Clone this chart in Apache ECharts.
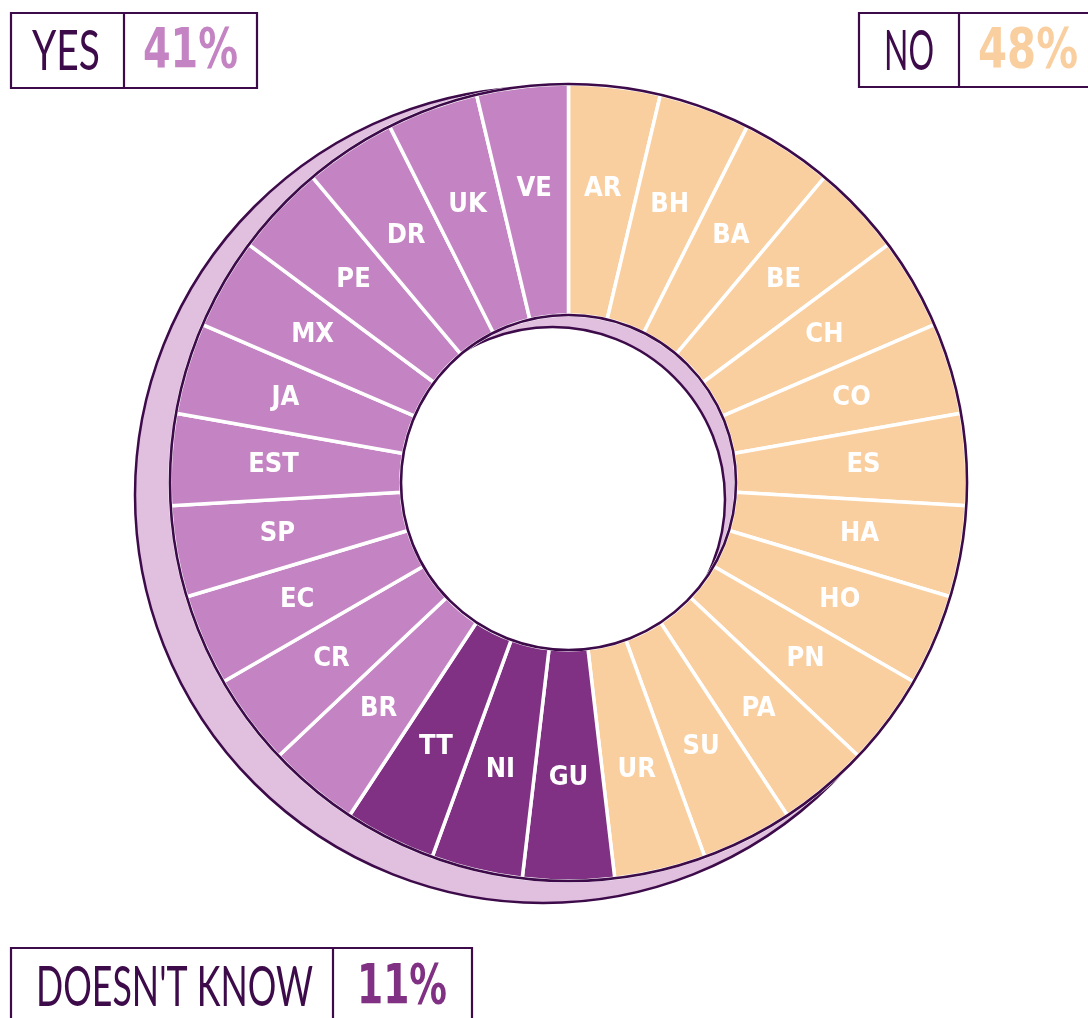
<!DOCTYPE html>
<html>
<head>
<meta charset="utf-8">
<script src="https://cdn.jsdelivr.net/npm/echarts@6/dist/echarts.min.js"></script>
<style>
html,body{margin:0;padding:0;background:#fff;}
#chart{width:1088px;height:1018px;}
</style>
</head>
<body>
<div id="chart"></div>
<script>
// ---- data ----
const countries = ['AR','BH','BA','BE','CH','CO','ES','HA','HO','PN','PA','SU','UR','GU','NI','TT','BR','CR','EC','SP','EST','JA','MX','PE','DR','UK','VE'];
const answers   = ['NO','NO','NO','NO','NO','NO','NO','NO','NO','NO','NO','NO','NO','DK','DK','DK','YES','YES','YES','YES','YES','YES','YES','YES','YES','YES','YES'];
const values    = [1,1,1,1,1,1,1,1,1,1,1,1,1,1,1,1,1,1,1,1,1,1,1,1,1,1,1];
const answerKeys   = ['YES','NO','DK'];
const answerLabels = ['YES','NO',"DOESN'T KNOW"];

// ---- styles ----
const COLORS = {YES:'#c484c3', NO:'#f9cfa0', DK:'#813183'};
const DARK = '#3d0b4a';
const SHADOW = '#e0bfdf';
const COND = "'DejaVu Sans Condensed','Liberation Sans Narrow',sans-serif";
const THIN = "'DejaVu Sans ExtraLight','Lato','DejaVu Sans Condensed',sans-serif";

const total = values.reduce((a,b)=>a+b,0);
const pct = {};
answerKeys.forEach(k=>{
  let s=0; answers.forEach((a,i)=>{ if(a===k) s+=values[i]; });
  pct[k] = Math.round(s/total*100) + '%';
});

const pieData = countries.map((c,i)=>({
  name:c, value:values[i], itemStyle:{color:COLORS[answers[i]]}
}));

const mctx = document.createElement('canvas').getContext('2d');
function textW(txt, weight, size, family){
  mctx.font = weight + ' ' + size + 'px ' + family;
  return mctx.measureText(txt).width;
}
function fitText(txt, cx, cy, targetW, size, family, weight, fill){
  const w = textW(txt, weight, size, family);
  const s = Math.min(1, targetW / w);
  return {type:'text', x:cx, y:cy, scaleX:s, scaleY:1,
    style:{text:txt, fill:fill, fontSize:size, fontFamily:family, fontWeight:weight, align:'center', verticalAlign:'middle'}};
}

const chart = echarts.init(document.getElementById('chart'), null, {renderer:'canvas'});

const C = [568.5, 482.5];
const R_IN = 167.5, R_OUT = 398.5;

function legendBox(x, y, w1, w2, h, label, labelCx, labelW, val, valCx, valW, valColor, ty) {
  return {
    type:'group', silent:true,
    children:[
      {type:'rect', shape:{x:x, y:y, width:w1+w2, height:h}, style:{fill:'#fff', stroke:DARK, lineWidth:2.2}},
      {type:'line', shape:{x1:x+w1, y1:y, x2:x+w1, y2:y+h}, style:{stroke:DARK, lineWidth:2.2}},
      fitText(label, labelCx, ty, labelW, 57, THIN, 'normal', DARK),
      fitText(val, valCx, ty, valW, 56, COND, 'bold', valColor)
    ]
  };
}

const option = {
  backgroundColor:'#fff',
  animation:false,
  series:[
    // shadow disk
    {type:'pie', silent:true, center:[543,495], radius:[0,408], startAngle:90,
     label:{show:false}, labelLine:{show:false}, emphasis:{disabled:true},
     data:[{value:1, itemStyle:{color:SHADOW, borderColor:DARK, borderWidth:2.5}}], z:1},
    // shadow hole
    {type:'pie', silent:true, center:[552.5,499.5], radius:[0,172.5], startAngle:90,
     label:{show:false}, labelLine:{show:false}, emphasis:{disabled:true},
     data:[{value:1, itemStyle:{color:'#fff', borderColor:DARK, borderWidth:2.5}}], z:2},
    // main donut
    {type:'pie', silent:true, center:C, radius:[R_IN,R_OUT], startAngle:90, clockwise:true,
     label:{show:false}, labelLine:{show:false}, emphasis:{disabled:true},
     itemStyle:{borderColor:'#fff', borderWidth:3.5},
     data:pieData, z:3},
    // outline
    {type:'pie', silent:true, center:C, radius:[R_IN,R_OUT], startAngle:90,
     label:{show:false}, labelLine:{show:false}, emphasis:{disabled:true},
     data:[{value:1, itemStyle:{color:'rgba(0,0,0,0)', borderColor:DARK, borderWidth:2.6}}], z:4},
    // labels
    {type:'pie', silent:true, center:C, radius:[187,398], startAngle:90, clockwise:true,
     emphasis:{disabled:true},
     itemStyle:{color:'rgba(0,0,0,0)', borderWidth:0},
     label:{show:true, position:'inside', formatter:'{b}', color:'#fff', fontFamily:COND, fontWeight:'bold', fontSize:27},
     labelLine:{show:false},
     data:countries.map((c,i)=>({name:c, value:values[i]})), z:5}
  ],
  graphic:[
    legendBox(11, 13, 113, 133, 75, answerLabels[0], 66, 68, pct.YES, 190.5, 95, COLORS.YES, 52),
    legendBox(859, 13, 100, 140, 74, answerLabels[1], 909, 50, pct.NO, 1028, 100, COLORS.NO, 52),
    legendBox(11, 948, 322, 139, 80, answerLabels[2], 174.5, 277, pct.DK, 402, 90, COLORS.DK, 988)
  ]
};
chart.setOption(option);
</script>
</body>
</html>
